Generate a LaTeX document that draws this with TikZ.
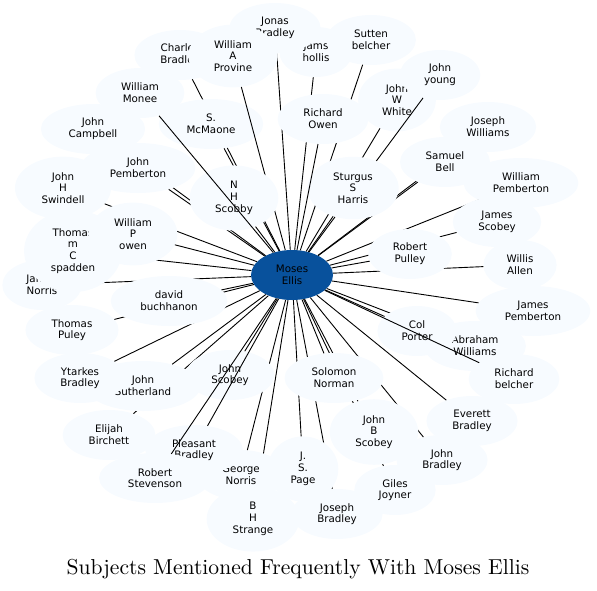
\documentclass[tikz,border=0pt]{standalone}
\usepackage{fontspec}
\newfontfamily\namefont{DejaVu Sans}
\newfontfamily\titlefont{lmroman10-regular}[Extension=.otf]
\usetikzlibrary{shapes.geometric}
\definecolor{paleblue}{HTML}{F7FBFF}
\definecolor{deepblue}{HTML}{08519C}

\begin{document}
\begin{tikzpicture}[x=1pt,y=-1pt,
  person/.style={ellipse,fill=paleblue,inner xsep=12.5pt,inner ysep=6.5pt,minimum height=50pt,align=center,font=\namefont\fontsize{10.3}{11.7}\selectfont},
  hub/.style={person,fill=deepblue,minimum width=82pt},
  link/.style={line width=0.9pt}]
\useasboundingbox (0,0) rectangle (597,590);
\node[hub] (moses) at (292,275) {Moses\\Ellis};
% outer ring
\node[person] (jams) at (316,52) {Jams\\hollis};
\draw[link] (moses) -- (jams);
\node[person] (jonas) at (275,28) {Jonas\\Bradley};
\draw[link] (moses) -- (jonas);
\node[person] (charles) at (180,55) {Charles\\Bradley};
\draw[link] (moses) -- (charles);
\node[person] (sutten) at (371,40) {Sutten\\belcher};
\draw[link] (moses) -- (sutten);
\node[person] (josephw) at (488,127) {Joseph\\Williams};
\draw[link] (moses) -- (josephw);
\node[person] (wpemberton) at (521,183) {William\\Pemberton};
\draw[link] (moses) -- (wpemberton);
\node[person] (campbell) at (93,129) {John\\Campbell};
\draw[link] (moses) -- (campbell);
\node[person] (swindell) at (63,188) {John\\H\\Swindell};
\draw[link] (moses) -- (swindell);
\node[person] (jnorris) at (42,285) {James\\Norris};
\draw[link] (moses) -- (jnorris);
\node[person] (jpembertonb) at (533,311) {James\\Pemberton};
\draw[link] (moses) -- (jpembertonb);
\node[person] (allen) at (520,265) {Willis\\Allen};
\draw[link] (moses) -- (allen);
\node[person] (elijah) at (109,435) {Elijah\\Birchett};
\draw[link] (moses) -- (elijah);
\node[person] (josephb) at (337,514) {Joseph\\Bradley};
\draw[link] (moses) -- (josephb);
\node[person] (giles) at (395,490) {Giles\\Joyner};
\draw[link] (moses) -- (giles);
\node[person] (strange) at (253,519) {B\\H\\Strange};
\draw[link] (moses) -- (strange);
\node[person] (everett) at (472,421) {Everett\\Bradley};
\draw[link] (moses) -- (everett);
\node[person] (jbradley) at (442,460) {John\\Bradley};
\draw[link] (moses) -- (jbradley);
\node[person] (tpuley) at (72,330) {Thomas\\Puley};
\draw[link] (moses) -- (tpuley);
\node[person] (sutherland) at (143,386) {John\\Sutherland};
\draw[link] (moses) -- (sutherland);
\node[person] (ytarkes) at (80,378) {Ytarkes\\Bradley};
\draw[link] (moses) -- (ytarkes);
\node[person] (jscobeyb) at (497,222) {James\\Scobey};
\draw[link] (moses) -- (jscobeyb);
\node[person] (abraham) at (475,346) {Abraham\\Williams};
\draw[link] (moses) -- (abraham);
\node[person] (porter) at (417,331) {Col\\Porter};
\draw[link] (moses) -- (porter);
\node[person] (rbelcher) at (514,379) {Richard\\belcher};
\draw[link] (moses) -- (rbelcher);
\node[person] (monee) at (140,93) {William\\Monee};
\node[person] (white) at (397,100) {John\\W\\White};
\draw[link] (moses) -- (white);
\node[person] (young) at (440,75) {John\\young};
\draw[link] (moses) -- (young);
\node[person] (george) at (241,475) {George\\Norris};
\draw[link] (moses) -- (george);
\node[person] (jscobey) at (230,375) {John\\Scobey};
\draw[link] (moses) -- (jscobey);
\node[person] (pleasant) at (194,450) {Pleasant\\Bradley};
\draw[link] (moses) -- (pleasant);
\node[person] (stevenson) at (155,478) {Robert\\Stevenson};
\draw[link] (moses) -- (stevenson);
\node[person] (mcmaone) at (211,124) {S.\\McMaone};
\draw[link] (moses) -- (mcmaone);
\node[person] (provine) at (233,56) {William\\A\\Provine};
\draw[link] (moses) -- (provine);
\node[person] (spadden) at (73,251) {Thomas\\m\\C\\spadden};
\draw[link] (moses) -- (spadden);
\node[person] (powen) at (133,234) {William\\P\\owen};
\draw[link] (moses) -- (powen);
\node[person] (jpemberton) at (138,168) {John\\Pemberton};
\draw[link] (moses) -- (jpemberton);
\node[person] (bell) at (445,162) {Samuel\\Bell};
\draw[link] (moses) -- (bell);
% inner ring
\node[person] (scobby) at (234,198) {N\\H\\Scobby};
\draw[link] (moses) -- (scobby);
\draw[link] (moses) -- (monee);
\node[person] (page) at (303,469) {J.\\S.\\Page};
\draw[link] (moses) -- (page);
\node[person] (jbscobey) at (374,432) {John\\B\\Scobey};
\draw[link] (moses) -- (jbscobey);
\node[person] (solomon) at (334,378) {Solomon\\Norman};
\draw[link] (moses) -- (solomon);
\node[person] (sturgus) at (353,188) {Sturgus\\S\\Harris};
\draw[link] (moses) -- (sturgus);
\node[person] (owen) at (323,119) {Richard\\Owen};
\draw[link] (moses) -- (owen);
\node[person] (david) at (169,301) {david\\buchhanon};
\draw[link] (moses) -- (david);
\node[person] (pulley) at (410,254) {Robert\\Pulley};
\draw[link] (moses) -- (pulley);
\node[font=\titlefont\fontsize{21.6}{26}\selectfont] (title) at (298,569) {Subjects Mentioned Frequently With Moses Ellis};
\end{tikzpicture}
\end{document}
